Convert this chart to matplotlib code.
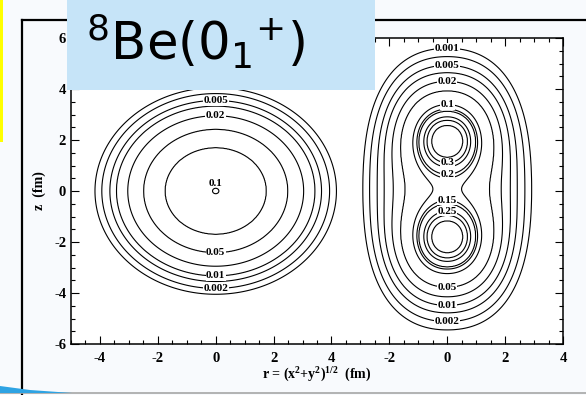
import numpy as np
import matplotlib
matplotlib.use("Agg")
import matplotlib.pyplot as plt
from matplotlib.patches import Rectangle, Polygon
from matplotlib.lines import Line2D
from matplotlib.ticker import FixedLocator, MultipleLocator

plt.rcParams['font.family'] = ['Liberation Serif', 'DejaVu Serif']
plt.rcParams['font.weight'] = 'bold'
plt.rcParams['mathtext.default'] = 'regular'
plt.rcParams['axes.unicode_minus'] = False

# ---------------- data ----------------
# left panel: single-centre density, radial profile (R in fm)
left_R = [0.0, 1.70, 2.42, 2.95, 3.33, 3.55, 3.82, 4.05, 5.50]
left_rho = [0.1015, 0.08, 0.05, 0.02, 0.01, 0.005, 0.002, 0.001, 1e-5]
left_r_scale = 1.03
left_levels = [0.001, 0.002, 0.005, 0.01, 0.02, 0.05, 0.08, 0.1]
left_r_range = [-5, 5]
left_label_levels = [0.001, 0.005, 0.02, 0.05, 0.01, 0.002]
left_label_z = [4.02, 3.55, 2.93, -2.42, -3.36, -3.90]
left_peak_label_z = 0.30

# right panel: two-centre density
right_centres_z = [1.95, -1.80]
right_r_stretch = [1.10, 0.12]
right_V = [0.05, 0.0934, 0.1107, 0.1347, 0.1623, 0.208, 0.286, 0.52, 0.67, 0.76, 1.13, 1.52, 2.62, 6.0, 1e4]
right_rho = [1e-4, 0.001, 0.002, 0.005, 0.01, 0.02, 0.05, 0.1, 0.15, 0.2, 0.25, 0.3, 0.35, 0.38, 0.40]
right_levels = [0.001, 0.002, 0.005, 0.01, 0.02, 0.05, 0.1, 0.15, 0.2, 0.25, 0.3, 0.35]
right_r_range = [-3, 4]
right_label_levels = [0.001, 0.005, 0.02, 0.1, 0.3, 0.2, 0.15, 0.25, 0.05, 0.01, 0.002]
right_label_z = [5.59, 4.93, 4.30, 3.45, 1.10, 0.59, -0.43, -0.78, -3.78, -4.49, -5.12]

z_range = [-6, 6]
left_tick_r = [-4, -2, 0, 2, 4]
right_tick_r = [-2, 0, 2, 4]
y_ticks = [-6, -4, -2, 0, 2, 4, 6]

title_text = r'$^{8}$Be(0$_{1}$$^{+}$)'
xlabel_text = r'r = (x$^{2}$+y$^{2}$)$^{1/2}$  (fm)'
ylabel_text = 'z  (fm)'


def left_field(r, z):
    rad = np.sqrt((r / left_r_scale) ** 2 + z ** 2)
    return np.exp(np.interp(rad, left_R, np.log(left_rho)))


def right_field(r, z):
    k1, k2 = right_r_stretch
    rs = k1 * np.abs(r) + k2 * r ** 2
    v = np.zeros(np.broadcast(r, z).shape)
    for c in right_centres_z:
        v = v + 1.0 / (rs ** 2 + (z - c) ** 2 + 1e-4)
    v = np.clip(v, right_V[0], right_V[-1])
    return np.exp(np.interp(v, right_V, np.log(right_rho)))


def crossing_z(field, level, z_guess):
    zs = np.linspace(z_range[0], z_range[1], 4801)
    f = field(np.zeros_like(zs), zs) - level
    idx = np.where(np.sign(f[:-1]) != np.sign(f[1:]))[0]
    if len(idx) == 0:
        return z_guess
    zc = zs[idx] - f[idx] * (zs[idx + 1] - zs[idx]) / (f[idx + 1] - f[idx])
    return zc[np.argmin(np.abs(zc - z_guess))]


# ---------------- figure ----------------
W, H = 586, 395
fig = plt.figure(figsize=(W / 100, H / 100), dpi=100)
fig.patch.set_facecolor('#f8fafd')


def fx(px):
    return px / W


def fy(py):
    return 1 - py / H


ax = fig.add_axes([fx(71), fy(344), fx(563) - fx(71), fy(38) - fy(344)])
ax.set_facecolor('white')

off_left = -left_r_range[0]
off_right = (left_r_range[1] - left_r_range[0]) - right_r_range[0]
u_max = off_right + right_r_range[1]

zz = np.linspace(z_range[0], z_range[1], 601)
rl = np.linspace(left_r_range[0], left_r_range[1], 501)
RL, ZL = np.meshgrid(rl, zz)
ax.contour(RL + off_left, ZL, left_field(RL, ZL), levels=left_levels,
           colors='black', linewidths=0.8)

rr = np.linspace(right_r_range[0], right_r_range[1], 401)
RR, ZR = np.meshgrid(rr, zz)
ax.contour(RR + off_right, ZR, right_field(RR, ZR), levels=right_levels,
           colors='black', linewidths=0.8)

lab_kw = dict(fontsize=8, weight='bold', ha='center', va='center', zorder=4,
              bbox=dict(boxstyle='square,pad=0.05', fc='white', ec='none'))
for lev, z in zip(left_label_levels, left_label_z):
    ax.text(off_left, crossing_z(left_field, lev, z), '%g' % lev, **lab_kw)
for lev, z in zip(right_label_levels, right_label_z):
    ax.text(off_right, crossing_z(right_field, lev, z), '%g' % lev, **lab_kw)
ax.text(off_left, left_peak_label_z, '%g' % left_levels[-1], fontsize=8,
        weight='bold', ha='center', va='center')

ax.set_xlim(0, u_max)
ax.set_ylim(z_range)
xt = [t + off_left for t in left_tick_r] + [t + off_right for t in right_tick_r]
ax.xaxis.set_major_locator(FixedLocator(xt))
ax.set_xticklabels([str(t) for t in left_tick_r + right_tick_r])
ax.xaxis.set_minor_locator(MultipleLocator(0.5))
ax.yaxis.set_major_locator(FixedLocator(y_ticks))
ax.yaxis.set_minor_locator(MultipleLocator(0.5))
ax.tick_params(which='both', direction='in', top=True, right=True, width=0.8,
               labelsize=10.5)
ax.tick_params(which='major', length=6)
ax.tick_params(which='minor', length=3)
ax.tick_params(axis='x', pad=6)
ax.tick_params(axis='y', pad=3.5)
for s in ax.spines.values():
    s.set_linewidth(1.1)

ax.set_xlabel(xlabel_text, fontsize=10, weight='bold')
ax.xaxis.set_label_coords(0.5, -0.07)
ax.set_ylabel(ylabel_text, fontsize=10, weight='bold')
ax.yaxis.set_label_coords(-0.05, 0.5)

# ---------------- slide decorations ----------------
fig.add_artist(Line2D([fx(22), fx(22)], [fy(20), fy(395)], color='black', lw=1.6,
                      transform=fig.transFigure, zorder=5))
fig.add_artist(Line2D([fx(22), 1.0], [fy(20), fy(20)], color='black', lw=1.6,
                      transform=fig.transFigure, zorder=5))
fig.add_artist(Rectangle((0, fy(142)), fx(2.5), fy(0) - fy(142), color='#ffff00',
                         transform=fig.transFigure, zorder=6, lw=0))
fig.add_artist(Line2D([0, 1], [fy(393), fy(393)], color='#a6a6a6', lw=1.2,
                      transform=fig.transFigure, zorder=5))
fig.add_artist(Polygon([[0, fy(386)], [fx(30), fy(390)], [fx(72), fy(393)], [0, fy(393)]],
                       closed=True, color='#2ea3e3', lw=0, transform=fig.transFigure, zorder=6))
fig.add_artist(Rectangle((fx(67), fy(90)), fx(375) - fx(67), fy(0) - fy(90),
                         color='#c6e4f8', lw=0, transform=fig.transFigure, zorder=8))
fig.text(fx(86), fy(61), title_text, fontsize=37, family='DejaVu Sans',
         weight='normal', ha='left', va='baseline', zorder=9)

fig.savefig('out.png', dpi=100, facecolor=fig.get_facecolor())
